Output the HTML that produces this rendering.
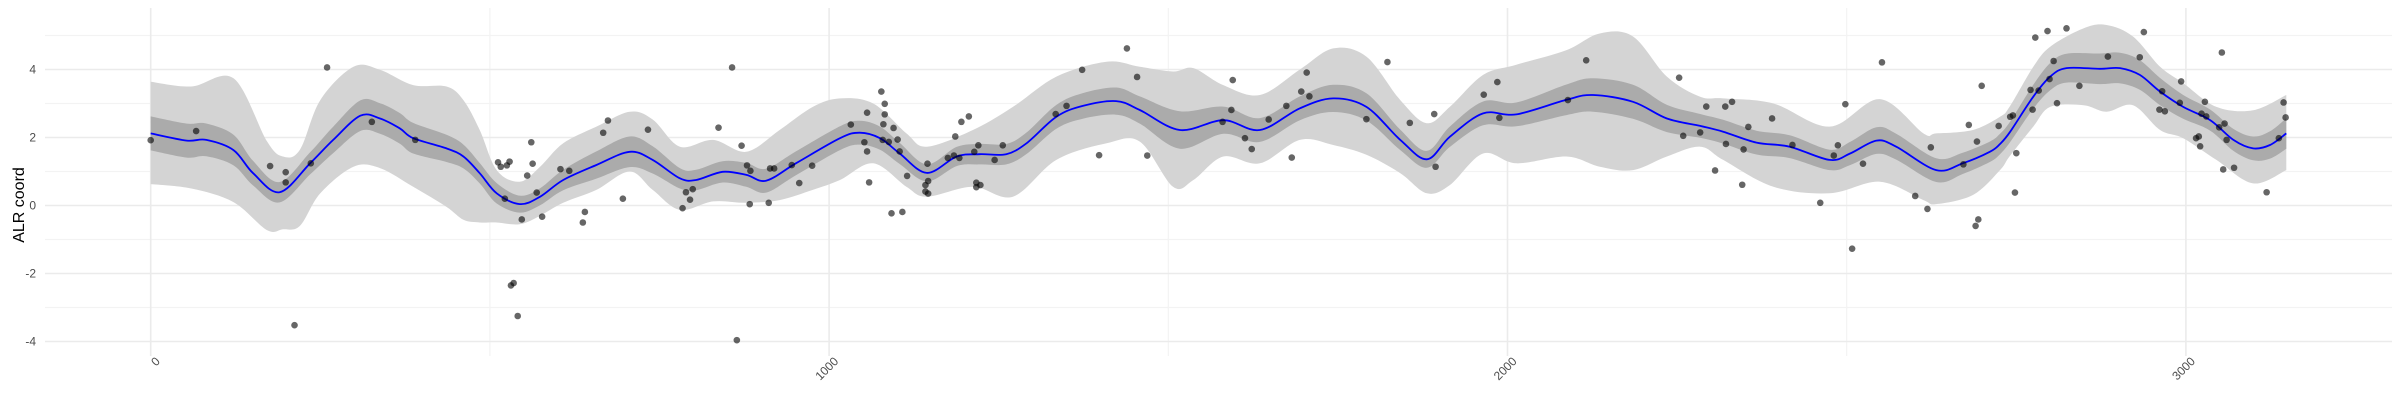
<!DOCTYPE html>
<html><head><meta charset="utf-8"><style>
html,body{margin:0;padding:0;background:#fff;}
svg{display:block;font-family:"Liberation Sans",sans-serif;}
</style></head><body>
<svg id="chart" width="2400" height="400" viewBox="0 0 2400 400">
<g id="grid"></g>
<g id="bands"></g>
<g id="line"></g>
<g id="points"></g>
<g id="axes"></g>
<text x="24" y="205" transform="rotate(-90 24 205)" text-anchor="middle" font-size="16" fill="#000">ALR coord</text>
</svg>
<script>
const xTicks=[0,1000,2000,3000];
const xMinor=[500,1500,2500];
const yTicks=[-4,-2,0,2,4];
const yMinor=[-3,-1,1,3,5];
const meanU=[0,53,82,122,151,190,235,269,309,338,367,387,436,461,485,510,544,574,608,657,706,740,780,804,843,878,907,951,1016,1045,1075,1104,1144,1188,1222,1261,1291,1335,1374,1423,1458,1517,1581,1635,1694,1743,1792,1842,1881,1915,1964,2013,2087,2126,2185,2235,2284,2318,2367,2416,2475,2505,2544,2573,2632,2671,2711,2726,2741,2775,2800,2824,2873,2903,2932,2962,2996,3036,3070,3099,3124,3148];
const meanV=[2.12,1.91,1.93,1.63,0.95,0.39,1.24,1.93,2.64,2.56,2.27,1.98,1.68,1.44,0.95,0.36,0.04,0.26,0.75,1.19,1.58,1.34,0.8,0.75,0.99,0.9,0.73,1.24,1.98,2.14,1.98,1.53,0.96,1.44,1.51,1.51,1.83,2.61,2.93,3.07,2.81,2.22,2.51,2.22,2.86,3.15,2.9,1.93,1.36,2.02,2.71,2.68,3.11,3.25,3.05,2.56,2.34,2.17,1.85,1.73,1.34,1.53,1.91,1.73,1.04,1.24,1.58,1.81,2.17,3.2,3.79,4.04,4.02,4.04,3.84,3.35,2.9,2.51,1.93,1.68,1.78,2.12];
const bandU=[0,60,122,171,195,220,250,299,338,387,436,461,485,510,544,574,608,657,706,740,780,829,878,927,976,1016,1065,1114,1144,1212,1271,1335,1409,1458,1507,1537,1581,1635,1694,1743,1792,1842,1881,1915,1964,2013,2087,2136,2185,2235,2284,2318,2392,2475,2549,2613,2632,2686,2726,2740,2775,2800,2849,2883,2922,2962,2996,3045,3099,3148];
const bandLo=[0.63,0.5,0.1,-0.72,-0.7,-0.6,0.36,1.14,1.1,0.55,-0.04,-0.42,-0.5,-0.5,-0.55,-0.3,0.08,0.46,1.0,0.46,-0.13,0.12,0.08,0.16,0.46,0.75,1.24,0.55,0.26,0.55,0.26,1.34,1.83,1.88,0.55,0.75,1.44,1.24,1.93,1.78,1.49,0.95,0.36,0.6,1.53,1.24,1.44,1.14,1.04,1.44,1.73,1.34,0.55,0.36,0.7,0.16,0.04,0.31,1.04,1.44,2.32,2.9,2.95,2.76,2.95,2.22,1.98,1.34,0.65,1.04];
const bandHi=[3.64,3.5,3.74,1.9,1.44,1.64,3.1,4.08,3.99,3.54,3.5,3.1,2.22,1.04,0.7,1.14,1.83,2.32,2.76,2.53,1.73,1.93,1.58,2.22,2.9,3.15,3.0,2.12,1.73,2.22,2.9,3.79,4.23,4.08,3.94,4.04,3.54,3.25,4.0,4.62,4.38,3.1,2.42,2.9,3.84,4.14,4.57,5.06,4.97,3.79,3.2,3.15,3.0,2.32,3.13,2.12,2.12,2.22,2.61,2.9,4.08,4.67,5.21,5.31,4.97,4.08,3.6,2.9,2.8,3.25];
const darkHalf=[0.5,0.5,0.45,0.3,0.3,0.3,0.35,0.45,0.45,0.45,0.4,0.35,0.3,0.3,0.25,0.25,0.3,0.4,0.45,0.4,0.3,0.3,0.35,0.35,0.35,0.35,0.35,0.3,0.25,0.3,0.3,0.35,0.4,0.4,0.55,0.55,0.4,0.35,0.35,0.4,0.4,0.3,0.25,0.3,0.35,0.35,0.45,0.5,0.5,0.4,0.35,0.35,0.35,0.3,0.4,0.35,0.35,0.3,0.3,0.3,0.35,0.4,0.45,0.45,0.45,0.4,0.35,0.3,0.35,0.45];
const ptU=[0,67,176,199,199,236,260,326,212,390,512,516,525,529,522,561,563,555,569,547,577,531,535,541,604,617,640,637,667,674,696,733,784,789,795,799,837,857,864,871,879,884,883,911,913,919,945,956,975,1032,1056,1052,1056,1059,1077,1082,1082,1080,1079,1088,1095,1101,1104,1092,1108,1115,1145,1146,1142,1142,1146,1175,1184,1192,1186,1195,1206,1214,1220,1217,1217,1223,1244,1256,1334,1350,1373,1398,1439,1454,1469,1580,1593,1595,1613,1623,1648,1674,1682,1696,1704,1708,1792,1823,1856,1892,1894,1965,1985,1988,2089,2116,2253,2259,2284,2293,2321,2331,2306,2322,2348,2346,2355,2390,2420,2461,2481,2487,2498,2508,2524,2552,2601,2619,2624,2672,2680,2692,2690,2694,2699,2724,2741,2745,2750,2748,2771,2774,2783,2778,2796,2799,2805,2810,2824,2843,2885,2932,2938,2965,2961,2969,2993,2991,3015,3019,3021,3023,3028,3030,3049,3053,3057,3060,3055,3071,3119,3137,3144,3147];
const ptV=[1.92,2.19,1.16,0.98,0.68,1.24,4.06,2.46,-3.52,1.93,1.27,1.14,1.18,1.29,0.2,1.86,1.23,0.88,0.38,-0.41,-0.33,-2.35,-2.28,-3.25,1.07,1.02,-0.19,-0.5,2.14,2.5,0.2,2.23,-0.08,0.39,0.17,0.48,2.29,4.06,-3.96,1.76,1.18,1.02,0.04,0.08,1.09,1.09,1.19,0.66,1.17,2.38,2.73,1.86,1.59,0.68,3.35,2.99,2.68,2.39,1.93,1.87,2.28,1.94,1.59,-0.23,-0.19,0.87,1.23,0.72,0.6,0.41,0.35,1.4,1.47,1.4,2.03,2.46,2.62,1.58,1.77,0.67,0.54,0.6,1.34,1.77,2.69,2.93,3.99,1.48,4.62,3.78,1.47,2.46,2.81,3.69,1.98,1.66,2.53,2.93,1.41,3.35,3.91,3.21,2.54,4.22,2.43,2.69,1.14,3.26,3.63,2.58,3.1,4.27,3.76,2.05,2.15,2.91,2.91,3.05,1.03,1.81,1.65,0.61,2.31,2.56,1.78,0.08,1.47,1.77,2.98,-1.27,1.23,4.21,0.28,-0.1,1.71,1.21,2.37,1.88,-0.6,-0.41,3.52,2.34,2.61,2.65,1.54,0.38,3.4,2.82,3.38,4.94,5.13,3.72,4.25,3.01,5.21,3.52,4.38,4.36,5.1,3.36,2.82,2.77,3.65,3.02,1.98,2.03,1.74,2.7,3.05,2.62,2.3,4.5,2.41,1.93,1.06,1.11,0.39,1.98,3.03,2.59];

const NS='http://www.w3.org/2000/svg';
const X0=150.7,KX=0.6784,Y0=205.5,KY=34;
const L=45,R=2392,T=8,B=356;
function sx(u){return X0+KX*u;}
function sy(v){return Y0-KY*v;}
function mk(tag,attrs,parent){const e=document.createElementNS(NS,tag);for(const k in attrs)e.setAttribute(k,attrs[k]);parent.appendChild(e);return e;}
function interp(xs,ys,x){if(x<=xs[0])return ys[0];for(let i=1;i<xs.length;i++){if(x<=xs[i]){const t=(x-xs[i-1])/(xs[i]-xs[i-1]);return ys[i-1]+t*(ys[i]-ys[i-1]);}}return ys[ys.length-1];}
function catmull(pts){let d='M'+pts[0][0].toFixed(1)+','+pts[0][1].toFixed(1);for(let i=0;i<pts.length-1;i++){const p0=pts[i-1]||pts[i],p1=pts[i],p2=pts[i+1],p3=pts[i+2]||p2;const c1=[p1[0]+(p2[0]-p0[0])/6,p1[1]+(p2[1]-p0[1])/6];const c2=[p2[0]-(p3[0]-p1[0])/6,p2[1]-(p3[1]-p1[1])/6];d+=' C'+c1[0].toFixed(1)+','+c1[1].toFixed(1)+' '+c2[0].toFixed(1)+','+c2[1].toFixed(1)+' '+p2[0].toFixed(1)+','+p2[1].toFixed(1);}return d;}
function catmullPts(pts){return catmull(pts).slice(1);}

const grid=document.getElementById('grid');
yMinor.forEach(v=>{const l=mk('line',{x1:L,x2:R,y1:sy(v),y2:sy(v),stroke:'#f3f3f3','stroke-width':1.2},grid);

});
xMinor.forEach(u=>{const l=mk('line',{x1:sx(u),x2:sx(u),y1:T,y2:B,stroke:'#f3f3f3','stroke-width':1.2},grid);

});
yTicks.forEach(v=>{const l=mk('line',{x1:L,x2:R,y1:sy(v),y2:sy(v),stroke:'#ebebeb','stroke-width':1.6},grid);

});
xTicks.forEach(u=>{const l=mk('line',{x1:sx(u),x2:sx(u),y1:T,y2:B,stroke:'#ebebeb','stroke-width':1.6},grid);

});

const bands=document.getElementById('bands');
const hiPts=bandU.map((u,i)=>[sx(u),sy(bandHi[i])]);
const loPts=bandU.map((u,i)=>[sx(u),sy(bandLo[i])]).reverse();
const light=mk('path',{d:catmull(hiPts)+' L'+catmullPts(loPts)+' Z',fill:'#d4d4d4'},bands);


const dHi=meanU.map((u,i)=>[sx(u),sy(meanV[i]+interp(bandU,darkHalf,u))]);
const dLo=meanU.map((u,i)=>[sx(u),sy(meanV[i]-interp(bandU,darkHalf,u))]).reverse();
const dark=mk('path',{d:catmull(dHi)+' L'+catmullPts(dLo)+' Z',fill:'#ababab'},bands);



const lineG=document.getElementById('line');
const ln=mk('path',{d:catmull(meanU.map((u,i)=>[sx(u),sy(meanV[i])])),fill:'none',stroke:'#0000ff','stroke-width':1.8},lineG);



const ptsG=document.getElementById('points');
ptU.forEach((u,i)=>{const c=mk('circle',{cx:sx(u),cy:sy(ptV[i]),r:3.3,fill:'rgba(0,0,0,0.6)'},ptsG);

});

const axes=document.getElementById('axes');
yTicks.forEach(v=>{const t=mk('text',{x:36,y:sy(v)+4,'text-anchor':'end','font-size':12,fill:'#4d4d4d'},axes);t.textContent=v;

});
xTicks.forEach(u=>{const x=sx(u)+10,y=362;const t=mk('text',{x:x,y:y,'text-anchor':'end','font-size':12,fill:'#4d4d4d',transform:'rotate(-45 '+x+' '+y+')'},axes);t.textContent=u;

});
</script>
</body></html>
